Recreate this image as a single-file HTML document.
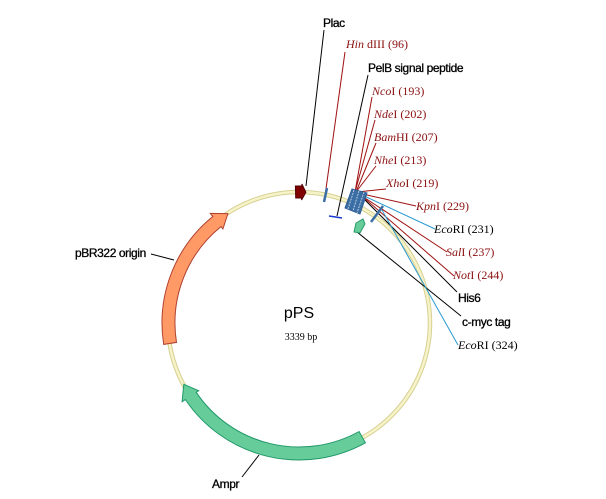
<!DOCTYPE html>
<html><head><meta charset="utf-8"><style>
html,body{margin:0;padding:0;background:#fff;width:606px;height:499px;overflow:hidden}
svg{display:block}
.f{font-family:"Liberation Sans",Arial,sans-serif;font-size:12px;fill:#000;stroke:#000;stroke-width:0.3;letter-spacing:-0.4px}
.e{font-family:"Liberation Serif",serif;font-size:12px;fill:#8b1010}
.ek{font-family:"Liberation Serif",serif;font-size:12px;fill:#000}
</style></head><body>
<svg id="s" width="606" height="499" viewBox="0 0 606 499" xmlns="http://www.w3.org/2000/svg">
<circle cx="299" cy="323" r="131" fill="none" stroke="#d6d093" stroke-width="4.5"/>
<circle cx="299" cy="323" r="131" fill="none" stroke="#f7f3c8" stroke-width="2.5"/>
<g id="arrows"></g>
<g fill="none" stroke-width="1">
<line x1="324" y1="30" x2="306" y2="186" stroke="#000"/>
<line x1="345" y1="52" x2="325" y2="196" stroke="#a01010"/>
<line x1="368" y1="75" x2="337" y2="216" stroke="#000"/>
<line x1="372" y1="97" x2="355" y2="192" stroke="#a01010"/>
<line x1="375" y1="120" x2="355" y2="192" stroke="#a01010"/>
<line x1="376" y1="143" x2="356" y2="192" stroke="#a01010"/>
<line x1="376" y1="166" x2="356" y2="192" stroke="#a01010"/>
<line x1="386" y1="189" x2="357" y2="192" stroke="#a01010"/>
<line x1="416" y1="206" x2="358" y2="193" stroke="#a01010"/>
<line x1="435" y1="229" x2="360" y2="194" stroke="#2a9ad0"/>
<line x1="447" y1="252" x2="362" y2="196" stroke="#a01010"/>
<line x1="454" y1="276" x2="363" y2="197" stroke="#a01010"/>
<line x1="457" y1="292" x2="365" y2="200" stroke="#000"/>
<line x1="461" y1="316" x2="357" y2="232" stroke="#000"/>
<line x1="458" y1="345" x2="382" y2="210" stroke="#2a9ad0"/>
<line x1="151" y1="254" x2="174" y2="260" stroke="#000"/>
<line x1="242" y1="477" x2="259" y2="455" stroke="#000"/>
</g>
<line x1="324" y1="202" x2="327" y2="188" stroke="#3a6ea5" stroke-width="2.5"/>
<line x1="329" y1="216" x2="342" y2="218" stroke="#1a3ad0" stroke-width="1.5"/>
<polygon points="352,189 367,193 360,214 345,208" fill="#3a6ea5" stroke="#2f5f95"/>
<line x1="354" y1="190" x2="348" y2="209" stroke="#bcd" stroke-width="1" stroke-dasharray="2,1"/>
<line x1="359" y1="191" x2="353" y2="211" stroke="#bcd" stroke-width="1" stroke-dasharray="2,1"/>
<line x1="364" y1="192" x2="357" y2="213" stroke="#bcd" stroke-width="1" stroke-dasharray="2,1"/>
<line x1="371" y1="222" x2="383" y2="206" stroke="#3a6ea5" stroke-width="2.5"/>
<polygon points="356,223 363,219 365,224 360,233 354,232" fill="#66cc99" stroke="#2a9a6a"/>
<text class="f" x="323" y="27">Plac</text>
<text class="e" x="346" y="48"><tspan font-style="italic">Hin</tspan> dIII (96)</text>
<text class="f" x="368" y="72">PelB signal peptide</text>
<text class="e" x="372" y="95"><tspan font-style="italic">Nco</tspan>I (193)</text>
<text class="e" x="374" y="118"><tspan font-style="italic">Nde</tspan>I (202)</text>
<text class="e" x="374" y="141"><tspan font-style="italic">Bam</tspan>HI (207)</text>
<text class="e" x="374" y="164"><tspan font-style="italic">Nhe</tspan>I (213)</text>
<text class="e" x="386" y="187"><tspan font-style="italic">Xho</tspan>I (219)</text>
<text class="e" x="416" y="210"><tspan font-style="italic">Kpn</tspan>I (229)</text>
<text class="ek" x="434" y="233"><tspan font-style="italic">Eco</tspan>RI (231)</text>
<text class="e" x="446" y="256"><tspan font-style="italic">Sal</tspan>I (237)</text>
<text class="e" x="453" y="279"><tspan font-style="italic">Not</tspan>I (244)</text>
<text class="f" x="458" y="302">His6</text>
<text class="f" x="462" y="326">c-myc tag</text>
<text class="ek" x="458" y="349"><tspan font-style="italic">Eco</tspan>RI (324)</text>
<text class="f" x="75" y="257">pBR322 origin</text>
<text class="f" x="212" y="488">Ampr</text>
<text x="299" y="318" text-anchor="middle" style="font-family:'Liberation Sans',sans-serif;font-size:16px;fill:#000">pPS</text>
<text x="301" y="340" text-anchor="middle" style="font-family:'Liberation Serif',serif;font-size:10px;fill:#000">3339 bp</text>
</svg>
<script>
(function(){
var cx=299,cy=323;
function P(r,a){a=a*Math.PI/180;return [(cx+r*Math.sin(a)).toFixed(1),(cy-r*Math.cos(a)).toFixed(1)];}
function arr(a0,a1,ri,ro,hi,ho,hl,fill,stroke){
 var d=a1>a0?1:-1, ab=a1-d*hl, rm=(ri+ro)/2;
 var p0=P(ro,a0),p1=P(ro,ab),p2=P(ho,ab),p3=P(rm,a1),p4=P(hi,ab),p5=P(ri,ab),p6=P(ri,a0);
 var large=Math.abs(ab-a0)>180?1:0, sw1=d>0?1:0, sw2=d>0?0:1;
 var s="M"+p0+" A"+ro+","+ro+" 0 "+large+" "+sw1+" "+p1+" L"+p2+" L"+p3+" L"+p4+" L"+p5+" A"+ri+","+ri+" 0 "+large+" "+sw2+" "+p6+"Z";
 return '<path d="'+s+'" fill="'+fill+'" stroke="'+stroke+'" stroke-width="1"/>';
}
var g=document.getElementById('arrows');
g.innerHTML=arr(261,327,124,137,121,141,6,"#ff9966","#b04030")+
 arr(151,242,124,137,121,141,6,"#66cc99","#20986a")+
 arr(-1.5,3,125,137,123,139,1.8,"#800000","#500000");
})();
</script>
</body></html>
